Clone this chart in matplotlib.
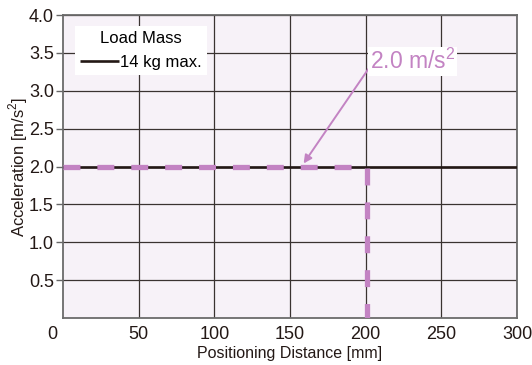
import matplotlib
matplotlib.use("Agg")
import matplotlib.pyplot as plt

# --- data ---
load_x = [0, 300]          # 14 kg max. load line
load_y = [2.0, 2.0]
limit_x = [0, 201, 201]    # 2.0 m/s^2 limit (dashed)
limit_y = [2.0, 2.0, 0.0]
x_ticks = [50, 100, 150, 200, 250, 300]
y_ticks = [0.5, 1.0, 1.5, 2.0, 2.5, 3.0, 3.5, 4.0]

FONT = ["Liberation Sans", "DejaVu Sans"]
plt.rcParams["font.family"] = FONT
plt.rcParams["mathtext.fontset"] = "custom"
plt.rcParams["mathtext.rm"] = "Liberation Sans"
plt.rcParams["lines.scale_dashes"] = False

PINK = "#c383c3"
INK = "#231815"
GRID = "#3a3331"

fig = plt.figure(figsize=(5.32, 3.65), dpi=100)
ax = fig.add_axes([63 / 532, 47 / 365, 454 / 532, 303 / 365])
ax.set_facecolor("#f7f2f8")
ax.set_xlim(0, 300)
ax.set_ylim(0, 4.0)

ax.set_xticks(x_ticks)
ax.set_yticks(y_ticks)
ax.set_yticklabels([f"{v:.1f}" for v in y_ticks])
ax.tick_params(axis="x", length=0, pad=6, labelsize=13, colors=INK)
ax.tick_params(axis="y", length=5, width=1, pad=1.5, labelsize=13, color="#666666", labelcolor=INK)
ax.text(-4, -0.1, "0", ha="right", va="top", fontsize=13, color=INK)

ax.grid(True, color=GRID, lw=0.9)
for s in ax.spines.values():
    s.set_color("#6b6b6b")
    s.set_linewidth(1.3)

ax.plot(load_x, load_y, color=INK, lw=1.9, solid_capstyle="butt", label="14 kg max.", zorder=3)
ax.plot(limit_x, limit_y, color=PINK, lw=3.8, linestyle=(0, (12.2, 12.2)), zorder=4)

ax.set_xlabel("Positioning Distance [mm]", fontsize=11.5, color=INK, labelpad=2)
ax.set_ylabel(r"Acceleration [m/s$^{\mathregular{2}}$]", fontsize=12, color=INK)
ax.yaxis.set_label_coords(-0.072, 0.5)

leg = ax.legend(title="Load Mass", loc="upper left", bbox_to_anchor=(0.027, 0.963),
                frameon=True, fancybox=False, framealpha=1, edgecolor="none",
                fontsize=12, title_fontsize=12, handlelength=2.3, handletextpad=0.1,
                borderpad=0.3, borderaxespad=0)
leg.get_frame().set_linewidth(0)

ax.annotate(r"2.0 m/s$^{\mathregular{2}}$", xy=(159, 2.04), xytext=(203, 3.39),
            fontsize=16.5, color=PINK, ha="left", va="center",
            bbox=dict(boxstyle="square,pad=0.08", fc="white", ec="none"),
            arrowprops=dict(arrowstyle="-|>", color=PINK, lw=1.4, shrinkA=0, shrinkB=0,
                            mutation_scale=12, relpos=(0, 0.3)),
            zorder=5)

fig.savefig("out.png", dpi=100)
